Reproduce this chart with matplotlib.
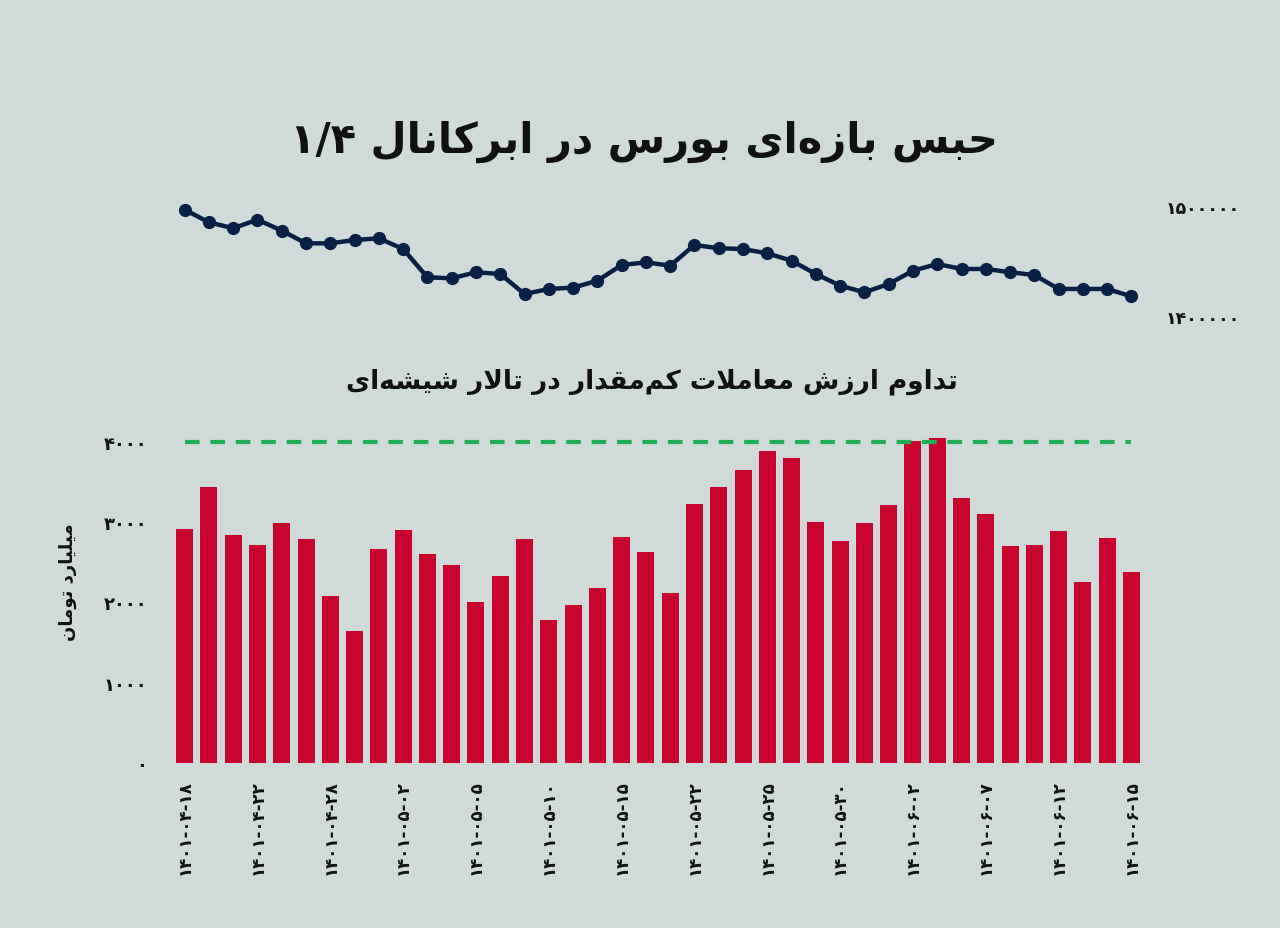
import re
import matplotlib
matplotlib.use("Agg")
import matplotlib.pyplot as plt
from matplotlib.ticker import FixedLocator, FuncFormatter

# --- data ------------------------------------------------------------------
index_vals = [1496400, 1484900, 1479500, 1487300, 1477300, 1465800, 1465800, 1468800,
              1470400, 1460600, 1434900, 1434000, 1439500, 1437900, 1419700, 1424300,
              1425500, 1431800, 1446100, 1448500, 1445500, 1464300, 1461300, 1460600,
              1456700, 1450000, 1437900, 1427300, 1421300, 1428800, 1440900, 1447000,
              1442500, 1442500, 1439500, 1437000, 1424300, 1424300, 1424300, 1417600]
trade_vals = [2910, 3435, 2839, 2715, 2989, 2786, 2076, 1644, 2661, 2898,
              2607, 2462, 2009, 2325, 2786, 1777, 1968, 2179, 2818, 2628,
              2113, 3229, 3433, 3645, 3889, 3802, 2997, 2761, 2985, 3217,
              4006, 4047, 3296, 3105, 2699, 2715, 2893, 2254, 2798, 2379]
date_labels = ["1401-04-18", "1401-04-22", "1401-04-28", "1401-05-02", "1401-05-05",
               "1401-05-10", "1401-05-15", "1401-05-22", "1401-05-25", "1401-05-30",
               "1401-06-02", "1401-06-07", "1401-06-12", "1401-06-15"]
label_step = 3
threshold = 4000
index_ticks = [1400000, 1500000]
trade_ticks = [0, 1000, 2000, 3000, 4000]

title = "حبس بازه\u200cای بورس در ابرکانال ۱/۴"
subtitle = "تداوم ارزش معاملات کم\u200cمقدار در تالار شیشه\u200cای"
ylabel = "میلیارد تومان"

BG = "#cfdad9"
RED = "#c8032d"
NAVY = "#0a1f44"
GREEN = "#1fae55"

# --- tiny arabic shaper (no arabic_reshaper available) ----------------------
FORMS = {  # isolated, final, initial, medial
    "ا": (0xFE8D, 0xFE8E), "آ": (0xFE81, 0xFE82), "د": (0xFEA9, 0xFEAA),
    "ذ": (0xFEAB, 0xFEAC), "ر": (0xFEAD, 0xFEAE), "ز": (0xFEAF, 0xFEB0),
    "ژ": (0xFB8A, 0xFB8B), "و": (0xFEED, 0xFEEE),
    "ب": (0xFE8F, 0xFE90, 0xFE91, 0xFE92), "پ": (0xFB56, 0xFB57, 0xFB58, 0xFB59),
    "ت": (0xFE95, 0xFE96, 0xFE97, 0xFE98), "ح": (0xFEA1, 0xFEA2, 0xFEA3, 0xFEA4),
    "س": (0xFEB1, 0xFEB2, 0xFEB3, 0xFEB4), "ش": (0xFEB5, 0xFEB6, 0xFEB7, 0xFEB8),
    "ع": (0xFEC9, 0xFECA, 0xFECB, 0xFECC), "ق": (0xFED5, 0xFED6, 0xFED7, 0xFED8),
    "ک": (0xFB8E, 0xFB8F, 0xFB90, 0xFB91), "ل": (0xFEDD, 0xFEDE, 0xFEDF, 0xFEE0),
    "م": (0xFEE1, 0xFEE2, 0xFEE3, 0xFEE4), "ن": (0xFEE5, 0xFEE6, 0xFEE7, 0xFEE8),
    "ه": (0xFEE9, 0xFEEA, 0xFEEB, 0xFEEC), "ی": (0xFBFC, 0xFBFD, 0xFBFE, 0xFBFF),
}
LAM_ALEF = (0xFEFB, 0xFEFC)


def shape(s):
    # merge lam+alef into a ligature placeholder
    chars = []
    i = 0
    while i < len(s):
        if s[i] == "ل" and i + 1 < len(s) and s[i + 1] == "ا":
            chars.append("LA")
            i += 2
        else:
            chars.append(s[i])
            i += 1

    def joins(c):
        return c in FORMS or c == "LA"

    def dual(c):
        return c in FORMS and len(FORMS[c]) == 4

    out = []
    for k, c in enumerate(chars):
        if c == "\u200c":
            continue
        prev = chars[k - 1] if k > 0 else None
        nxt = chars[k + 1] if k + 1 < len(chars) else None
        jp = prev is not None and dual(prev) and joins(c)
        if c == "LA":
            out.append(chr(LAM_ALEF[1] if jp else LAM_ALEF[0]))
            continue
        if c not in FORMS:
            out.append(c)
            continue
        jn = dual(c) and nxt is not None and joins(nxt)
        f = FORMS[c]
        if jp and jn:
            out.append(chr(f[3]))
        elif jp:
            out.append(chr(f[1]))
        elif jn:
            out.append(chr(f[2]))
        else:
            out.append(chr(f[0]))
    vis = "".join(out)[::-1]
    # numbers stay left-to-right
    return re.sub(r"[0-9۰-۹/.\-]+", lambda m: m.group(0)[::-1], vis)


FA_DIGITS = str.maketrans("0123456789", "۰۱۲۳۴۵۶۷۸۹")


def fa(x):
    return str(x).translate(FA_DIGITS)


plt.rcParams["font.family"] = ["DejaVu Sans"]

fig = plt.figure(figsize=(12.8, 9.29), dpi=100, facecolor=BG)
W, H = 1280, 929


def axes_px(left, top, right, bottom):
    return fig.add_axes([left / W, 1 - bottom / H, (right - left) / W, (bottom - top) / H])


xs = list(range(len(trade_vals)))

# --- index line ---------------------------------------------------------------
ax1 = axes_px(172.5, 201.2, 1143.6, 322.2)
ax1.set_facecolor("none")
ax1.plot(xs, index_vals, "-o", color=NAVY, lw=3.2, ms=8.5, zorder=3)
ax1.set_xlim(-0.5, len(xs) - 0.5)
ax1.set_ylim(1395000, 1505000)
ax1.yaxis.tick_right()
ax1.yaxis.set_major_locator(FixedLocator(index_ticks))
ax1.yaxis.set_major_formatter(FuncFormatter(lambda v, p: fa(int(v))))
ax1.tick_params(axis="y", length=0, pad=16, labelsize=12.5, labelcolor="#111111")
ax1.set_xticks([])
for sp in ax1.spines.values():
    sp.set_visible(False)
for lab in ax1.get_yticklabels():
    lab.set_fontweight("bold")

# --- trade value bars -------------------------------------------------------
ax2 = axes_px(172.5, 434.8, 1143.6, 764)
ax2.set_facecolor("none")
ax2.bar(xs, trade_vals, width=0.7, color=RED, zorder=2)
ax2.plot([0, len(xs) - 1], [threshold, threshold], ls=(0, (3.5, 2.6)), color=GREEN,
         lw=3, zorder=3)
ax2.set_xlim(-0.5, len(xs) - 0.5)
ax2.set_ylim(0, 4100)
ax2.yaxis.set_major_locator(FixedLocator(trade_ticks))
ax2.yaxis.set_major_formatter(FuncFormatter(lambda v, p: fa(int(v))))
ax2.tick_params(axis="y", length=0, pad=18, labelsize=13, labelcolor="#111111")
ax2.set_xticks(xs[::label_step])
ax2.set_xticklabels([fa(d) for d in date_labels], rotation=90, fontsize=12,
                    fontweight="bold", color="#111111")
ax2.tick_params(axis="x", length=0, pad=12)
for lab in ax2.get_yticklabels():
    lab.set_fontweight("bold")
for sp in ax2.spines.values():
    sp.set_visible(False)

# --- texts ------------------------------------------------------------------
fig.text(644 / W, 1 - 142 / H, shape(title), ha="center", va="center",
         fontsize=30, fontweight="bold", color="#111111")
fig.text(652 / W, 1 - 382 / H, shape(subtitle), ha="center", va="center",
         fontsize=19, fontweight="bold", color="#111111")
fig.text(68 / W, 1 - 582 / H, shape(ylabel), ha="center", va="center",
         rotation=90, fontsize=13, fontweight="bold", color="#111111")

fig.savefig("out.png", dpi=100, facecolor=BG)
